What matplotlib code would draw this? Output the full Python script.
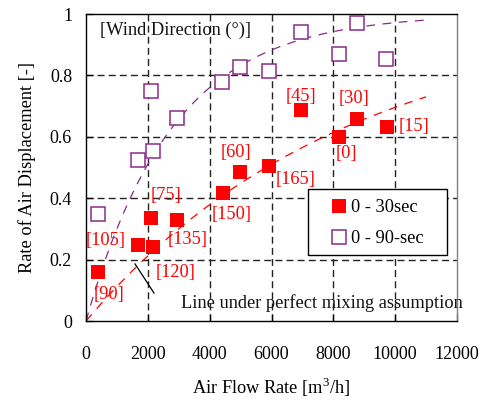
import numpy as np
import matplotlib
matplotlib.use("Agg")
import matplotlib.pyplot as plt
from matplotlib.patches import Rectangle

plt.rcParams['font.family'] = ['Liberation Serif', 'DejaVu Serif']
plt.rcParams['mathtext.fontset'] = 'custom'
plt.rcParams['mathtext.rm'] = 'Liberation Serif'

# ---- data ----
flow_30 = [390, 1680, 2100, 2170, 2940, 4430, 4980, 5920, 6955, 8180, 8765, 9735]
rate_30 = [0.160, 0.247, 0.335, 0.240, 0.330, 0.418, 0.485, 0.505, 0.687, 0.600, 0.658, 0.632]
wind_labels = ['[90]', '[105]', '[75]', '[120]', '[135]', '[150]', '[60]', '[165]',
               '[45]', '[0]', '[30]', '[15]']

flow_90 = [390, 1680, 2170, 2100, 2950, 4390, 4980, 5920, 6955, 8180, 8765, 9700]
rate_90 = [0.348, 0.524, 0.554, 0.750, 0.660, 0.779, 0.828, 0.815, 0.940, 0.870, 0.970, 0.853]

room_volume = 70.0   # m3, perfect-mixing model
t_short = 30.0       # s
t_long = 90.0        # s
curve_max_flow = 11000

xticks = [0, 2000, 4000, 6000, 8000, 10000, 12000]
yticks = [0, 0.2, 0.4, 0.6, 0.8, 1.0]
ytick_labels = ['0', '0.2', '0.4', '0.6', '0.8', '1']

# label offsets in pixels (dx, dy)
label_offsets = [(11, -23), (-32, 5), (15, 23), (22, -25), (11, -20), (9, -22),
                 (-4, 20), (27, -14), (0, 14), (7, -17), (-3, 20), (27, 0)]

RED = '#FF0000'
PURPLE = '#8B2A8B'
FS = 13.2

fig = plt.figure(figsize=(4.83, 4.05), dpi=100)
ax = fig.add_axes([86/483, 1-321/405, 371/483, 307/405])

ax.set_xlim(0, 12000)
ax.set_ylim(0, 1)

# grid
for x in xticks[1:-1]:
    ax.axvline(x, color='#222222', lw=1.0, dashes=(5, 3), zorder=1)
for y in yticks[1:-1]:
    ax.axhline(y, color='#222222', lw=1.0, dashes=(5, 3), zorder=1)

# perfect-mixing curves
q = np.linspace(0, curve_max_flow, 200)
ax.plot(q, 1 - np.exp(-q * t_short / (3600 * room_volume)), color=RED, lw=0.9,
        dashes=(7, 6), zorder=2)
ax.plot(q, 1 - np.exp(-q * t_long / (3600 * room_volume)), color=PURPLE, lw=0.9,
        dashes=(7, 6), zorder=2)

ax.plot(flow_30, rate_30, 's', color=RED, markersize=10, markeredgewidth=0,
        linestyle='none', label='0 - 30sec', zorder=4)
ax.plot(flow_90, rate_90, 's', markerfacecolor='white', markeredgecolor=PURPLE,
        markersize=9.5, markeredgewidth=1.1, linestyle='none', label='0 - 90-sec', zorder=3)

for xv, yv, lab, (dx, dy) in zip(flow_30, rate_30, wind_labels, label_offsets):
    ax.annotate(lab, (xv, yv), xytext=(dx, dy), textcoords='offset pixels',
                ha='center', va='center', color=RED, fontsize=FS, zorder=5)

ax.text(453, 0.948, '[Wind Direction (°)]', ha='left', va='center', fontsize=FS,
        color='#111111', zorder=5)

ax.plot([1585, 2200], [0.186, 0.091], color='black', lw=0.9, zorder=5)
ax.text(3073, 0.059, 'Line under perfect mixing assumption', ha='left', va='center',
        fontsize=FS, color='#111111', clip_on=False, zorder=5)

ax.set_xticks(xticks)
ax.set_yticks(yticks)
ax.set_yticklabels(ytick_labels)
ax.tick_params(direction='in', length=5, width=0.9, labelsize=13, colors='black')
ax.tick_params(axis='x', pad=18)
ax.tick_params(axis='y', pad=10)

for s in ['left', 'bottom', 'top']:
    ax.spines[s].set_color('black')
    ax.spines[s].set_linewidth(1.0)
ax.spines['right'].set_color('#808080')
ax.spines['right'].set_linewidth(1.0)

ax.set_xlabel('Air Flow Rate [m$^3$/h]', fontsize=FS, labelpad=9)
ax.set_ylabel('Rate of Air Displacement [-]', fontsize=FS, labelpad=10)

# legend frame drawn as a rectangle, legend itself frameless
frame = Rectangle((0.598, 0.215), 0.375, 0.215, transform=ax.transAxes,
                  facecolor='white', edgecolor='black', lw=1.0, zorder=6)
ax.add_patch(frame)
leg = ax.legend(loc='center left', bbox_to_anchor=(0.663, 0.319), frameon=False,
                fontsize=FS, handlelength=0.8, handletextpad=0.25, borderpad=0,
                labelspacing=0.75, borderaxespad=0)
leg.set_zorder(7)

fig.savefig('out.png', dpi=100)
